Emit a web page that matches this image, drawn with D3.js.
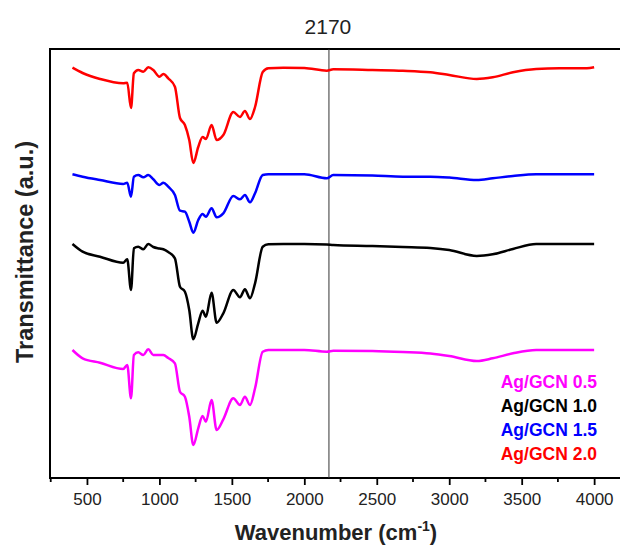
<!DOCTYPE html>
<html>
<head>
<meta charset="utf-8">
<script src="https://cdn.jsdelivr.net/npm/d3@7"></script>
<style>
  body { margin: 0; background: #fff; }
  text { font-family: "Liberation Sans", Arial, sans-serif; }
</style>
</head>
<body>
<div id="chart"></div>
<script>
// wavenumber grid (cm-1) shared by all spectra
var wavenumbers = [400, 470, 590, 750, 778, 804, 824, 854, 889, 923, 958, 1000, 1027, 1061, 1107, 1142, 1176, 1206, 1234, 1268, 1298, 1321, 1360, 1395, 1441, 1510, 1556, 1590, 1625, 1660, 1713, 1752, 1855, 2000, 2155, 2200, 2470, 2680, 2870, 3000, 3190, 3300, 3440, 3600, 3760, 3950, 4000];

// transmittance (a.u., already offset for stacking)
var ag05 = [128, 119.7, 115.3, 109, 113, 79.7, 123, 125.7, 123, 128.7, 123, 123, 123, 120, 114.7, 86.3, 81.3, 61.3, 33, 49.7, 62, 56.3, 78, 48, 58.7, 79.7, 73, 81.3, 73, 89.7, 126.3, 128, 128, 128, 126.3, 127.3, 127, 126, 124.5, 122, 117, 119.7, 124.7, 128, 128, 128, 128];
var ag10 = [234, 226.3, 221.3, 215.3, 218.7, 188, 229.7, 231.3, 228.7, 234, 231, 229.5, 228.7, 226, 219.7, 191.3, 186.3, 168, 138.7, 154.7, 167.3, 161.3, 185.3, 155.3, 164.7, 188, 180.7, 188.7, 179.7, 194.7, 231.3, 233.7, 234, 234, 233.5, 233, 232, 231, 230, 228, 222, 223.7, 229, 234, 234, 234, 234];
var ag15 = [303.7, 301.3, 298, 294, 295.3, 281.3, 301.3, 303, 300.7, 303, 298.7, 293, 295.3, 291.3, 283, 267.3, 266.3, 256.3, 245.3, 258, 264, 261.3, 269.7, 260.7, 264.7, 282, 278.7, 283, 275.7, 284.7, 303, 303.7, 303.7, 303.7, 299.7, 303, 302.5, 301.3, 301.3, 300.5, 298, 299.7, 302, 303.7, 303.7, 303.7, 303.7];
var ag20 = [410.3, 405, 399, 394.7, 395.3, 370, 404.7, 408, 406.3, 410.7, 408, 401.3, 404, 399.7, 391.3, 360, 353, 338, 315, 331, 341, 339, 353, 338, 343, 366, 361, 367, 359, 371, 406, 409.7, 410.3, 410, 407.3, 408.7, 408, 407.3, 405.7, 403, 399, 400.7, 405.7, 409, 409.7, 409.7, 410.7];

var seriesNames = ["Ag/GCN 0.5", "Ag/GCN 1.0", "Ag/GCN 1.5", "Ag/GCN 2.0"];
var seriesColors = ["#ff00ff", "#000000", "#0000ff", "#ff0000"];
var seriesValues = [ag05, ag10, ag15, ag20];
var xTicks = [500, 1000, 1500, 2000, 2500, 3000, 3500, 4000];
var markLine = 2170;

var width = 620, height = 549;
var plotLeft = 50, plotRight = 625, plotTop = 49, plotBottom = 478;

var svg = d3.select("#chart").append("svg")
    .attr("width", width)
    .attr("height", height);

var x = d3.scaleLinear().domain([245, 4213]).range([plotLeft, plotRight]);
var y = d3.scaleLinear().domain([0, 429]).range([plotBottom, plotTop]);

//frame
svg.append("rect")
    .attr("x", plotLeft)
    .attr("y", plotTop)
    .attr("width", plotRight - plotLeft)
    .attr("height", plotBottom - plotTop)
    .attr("fill", "none")
    .attr("stroke", "#000")
    .attr("stroke-width", 2);

//minor ticks every 250
var minor = d3.range(250, 4250, 250).filter(function (d) { return xTicks.indexOf(d) < 0; });
svg.selectAll(".minor")
    .data(minor)
    .enter()
    .append("line")
    .attr("class", "minor")
    .attr("x1", function (d) { return x(d); })
    .attr("x2", function (d) { return x(d); })
    .attr("y1", plotBottom)
    .attr("y2", plotBottom + 4)
    .attr("stroke", "#000")
    .attr("stroke-width", 1.8);

var xAxis = svg.append("g")
    .attr("transform", "translate(0," + plotBottom + ")")
    .call(d3.axisBottom(x).tickValues(xTicks).tickSize(7).tickPadding(8).tickFormat(d3.format("d")));
xAxis.select(".domain").remove();
xAxis.selectAll("line").attr("stroke", "#000").attr("stroke-width", 1.8);
xAxis.selectAll("text")
    .attr("font-size", 17)
    .attr("fill", "#222")
    .style("font-family", "'Liberation Sans', Arial, sans-serif");

//marker line at 2170
svg.append("line")
    .attr("x1", x(markLine))
    .attr("x2", x(markLine))
    .attr("y1", plotTop)
    .attr("y2", plotBottom)
    .attr("stroke", "#333")
    .attr("stroke-width", 1);
svg.append("text")
    .attr("x", x(markLine) - 1)
    .attr("y", 34)
    .attr("text-anchor", "middle")
    .attr("font-size", 21)
    .attr("fill", "#222")
    .text(markLine);

//spectra
var line = d3.line()
    .x(function (d) { return x(d[0]); })
    .y(function (d) { return y(d[1]); })
    .curve(d3.curveMonotoneX);

seriesValues.forEach(function (vals, i) {
    var pts = wavenumbers.map(function (w, j) { return [w, vals[j]]; });
    svg.append("path")
        .datum(pts)
        .attr("fill", "none")
        .attr("stroke", seriesColors[i])
        .attr("stroke-width", 2.5)
        .attr("stroke-linejoin", "round")
        .attr("d", line);
});

//legend
svg.selectAll(".legend")
    .data(seriesNames)
    .enter()
    .append("text")
    .attr("class", "legend")
    .attr("x", 597)
    .attr("y", function (d, i) { return 388 + i * 24; })
    .attr("text-anchor", "end")
    .attr("font-size", 17.5)
    .attr("font-weight", "bold")
    .attr("fill", function (d, i) { return seriesColors[i]; })
    .text(function (d) { return d; });

//axis titles
var xt = svg.append("text")
    .attr("x", 336)
    .attr("y", 540)
    .attr("text-anchor", "middle")
    .attr("font-size", 22)
    .attr("font-weight", "bold")
    .attr("fill", "#222");
xt.append("tspan").text("Wavenumber (cm");
xt.append("tspan").attr("font-size", 14).attr("dy", -9).text("-1");
xt.append("tspan").attr("dy", 9).text(")");

svg.append("text")
    .attr("transform", "translate(33,252) rotate(-90)")
    .attr("text-anchor", "middle")
    .attr("font-size", 23.5)
    .attr("font-weight", "bold")
    .attr("fill", "#222")
    .text("Transmittance (a.u.)");
</script>
</body>
</html>
